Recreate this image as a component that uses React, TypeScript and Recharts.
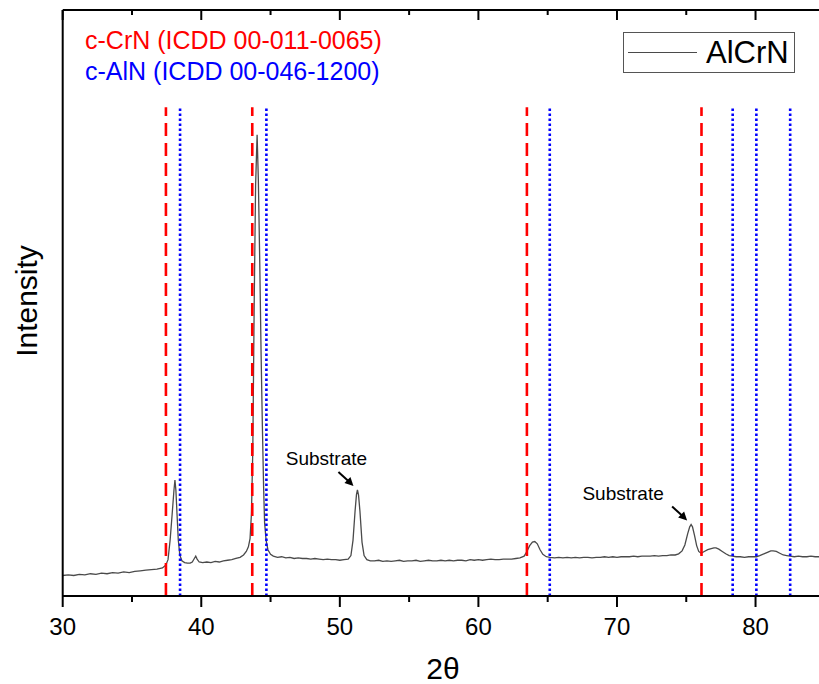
import { Legend, Line, LineChart, ReferenceDot, ReferenceLine, XAxis, YAxis } from "recharts";

const twoTheta = [
  30.0, 30.4, 30.8, 31.2, 31.6, 32.0, 32.4, 32.8, 33.2, 33.6, 34.0, 34.4, 34.8, 35.2, 35.6, 36.0, 36.4, 36.8, 37.2, 37.45,
  37.6, 37.75, 37.9, 38.03, 38.1, 38.17, 38.25, 38.34, 38.45, 38.6, 38.8, 39.0, 39.2, 39.35, 39.5, 39.6, 39.7, 39.85,
  40.1, 40.4, 40.7, 41.0, 41.3, 41.6, 41.9, 42.2, 42.5, 42.8, 43.05, 43.25, 43.4, 43.52, 43.62, 43.72, 43.82, 43.92,
  44.03, 44.12, 44.22, 44.32, 44.41, 44.5, 44.57, 44.68, 44.81, 45.0, 45.2, 45.5, 45.8, 46.1, 46.4, 46.7, 47.0, 47.3,
  47.6, 47.9, 48.2, 48.5, 48.8, 49.1, 49.4, 49.7, 50.0, 50.3, 50.6, 50.8, 50.95, 51.1, 51.2, 51.27, 51.35, 51.45, 51.6,
  51.75, 51.95, 52.2, 52.5, 52.8, 53.1, 53.4, 53.7, 54.0, 54.3, 54.6, 54.9, 55.2, 55.5, 55.8, 56.1, 56.4, 56.7, 57.0,
  57.3, 57.6, 57.9, 58.2, 58.5, 58.8, 59.1, 59.4, 59.7, 60.0, 60.3, 60.6, 60.9, 61.2, 61.5, 61.8, 62.1, 62.4, 62.7,
  63.0, 63.3, 63.5, 63.7, 63.9, 64.07, 64.25, 64.45, 64.65, 64.9, 65.15, 65.5, 65.8, 66.1, 66.4, 66.7, 67.0, 67.3,
  67.6, 67.9, 68.2, 68.5, 68.8, 69.1, 69.4, 69.7, 70.0, 70.3, 70.6, 70.9, 71.2, 71.5, 71.8, 72.1, 72.4, 72.7, 73.0,
  73.3, 73.6, 73.9, 74.2, 74.45, 74.7, 74.9, 75.1, 75.25, 75.35, 75.45, 75.6, 75.75, 75.9, 76.07, 76.3, 76.55, 76.8,
  77.0, 77.15, 77.35, 77.6, 77.85, 78.1, 78.35, 78.6, 78.9, 79.2, 79.5, 79.8, 80.06, 80.3, 80.6, 80.9, 81.1, 81.27,
  81.5, 81.75, 82.0, 82.25, 82.5, 82.8, 83.1, 83.4, 83.7, 84.0, 84.3, 84.58,
];

const intensity = [
  3.5, 3.6, 3.5, 3.7, 3.6, 3.8, 3.7, 3.9, 3.8, 4.0, 3.9, 4.1, 4.0, 4.2, 4.3, 4.4, 4.5, 4.6, 4.8, 5.3,
  6.2, 9.5, 14.0, 18.1, 19.8, 18.0, 14.0, 9.6, 7.0, 6.0, 5.7, 5.6, 5.6, 5.8, 6.4, 6.8, 6.3, 5.8,
  5.7, 5.8, 5.7, 5.9, 5.8, 6.0, 6.1, 6.2, 6.4, 6.6, 7.0, 7.6, 8.4, 9.8, 14.0, 25.0, 50.0, 70.0,
  78.7, 71.0, 57.0, 41.0, 29.0, 18.5, 12.5, 9.5, 7.9, 7.1, 6.8, 6.6, 6.7, 6.5, 6.6, 6.4, 6.5, 6.4,
  6.4, 6.3, 6.4, 6.3, 6.2, 6.3, 6.2, 6.2, 6.1, 6.2, 6.3, 6.9, 9.5, 14.5, 17.3, 18.1, 17.2, 14.5, 9.2,
  6.9, 6.2, 6.0, 6.0, 6.1, 5.9, 6.0, 5.9, 6.0, 6.1, 5.9, 6.0, 6.0, 6.1, 5.9, 6.0, 6.1, 6.0, 6.0,
  6.1, 6.0, 6.1, 6.0, 6.1, 6.1, 6.0, 6.2, 6.1, 6.2, 6.1, 6.2, 6.3, 6.2, 6.2, 6.3, 6.3, 6.3, 6.4,
  6.5, 6.8, 7.6, 8.6, 9.2, 9.3, 8.9, 7.9, 7.1, 6.7, 6.6, 6.5, 6.6, 6.5, 6.6, 6.5, 6.6, 6.5,
  6.6, 6.6, 6.5, 6.6, 6.6, 6.7, 6.6, 6.7, 6.6, 6.7, 6.7, 6.7, 6.8, 6.7, 6.8, 6.8, 6.8, 6.9, 6.8,
  6.9, 6.9, 7.0, 7.0, 7.2, 7.7, 8.7, 10.6, 11.8, 12.2, 11.8, 10.3, 8.6, 7.6, 7.3, 7.6, 7.9, 8.1,
  8.2, 8.2, 8.0, 7.6, 7.2, 6.9, 6.8, 6.7, 6.7, 6.6, 6.7, 6.7, 6.7, 6.9, 7.2, 7.5, 7.7, 7.7,
  7.6, 7.3, 7.0, 6.9, 6.8, 6.7, 6.8, 6.7, 6.7, 6.8, 6.7, 6.7,
];

const crnLines = [37.45, 43.68, 63.5, 76.1];
const alnLines = [38.47, 44.7, 65.15, 78.35, 80.06, 82.5];
const majorTicks = [30, 40, 50, 60, 70, 80];
const allTicks = [30, 35, 40, 45, 50, 55, 60, 65, 70, 75, 80];
const substratePeaks = [
  { x: 51.27, y: 18.1 },
  { x: 75.35, y: 12.2 },
];

const data = twoTheta.map((t, i) => ({ t, v: intensity[i] }));

const FONT = "'Liberation Sans', Arial, sans-serif";

function BottomTick({ x, y, payload }: any) {
  const major = majorTicks.includes(payload.value);
  return (
    <g>
      <line x1={x} y1={y} x2={x} y2={y + (major ? 11 : 6)} stroke="#000" strokeWidth={2} />
      {major && (
        <text x={x} y={y + 39} textAnchor="middle" fontSize={24} fill="#000" fontFamily={FONT}>
          {payload.value}
        </text>
      )}
    </g>
  );
}

function TopTick({ x, y, payload }: any) {
  const major = majorTicks.includes(payload.value);
  return <line x1={x} y1={y} x2={x} y2={y + (major ? 10 : 5)} stroke="#000" strokeWidth={2} />;
}

function SubstrateMark({ cx, cy, textDx }: any) {
  return (
    <g>
      <text x={cx + textDx} y={cy - 25} textAnchor="middle" fontSize={19} fill="#000" fontFamily={FONT}>
        Substrate
      </text>
      <line x1={cx - 19} y1={cy - 18} x2={cx - 8} y2={cy - 8} stroke="#000" strokeWidth={2} />
      <polygon points={`${cx - 4},${cy - 4} ${cx - 13},${cy - 7} ${cx - 7},${cy - 13}`} fill="#000" />
    </g>
  );
}

function LegendBox() {
  return (
    <div
      style={{
        boxSizing: "border-box",
        width: 172,
        height: 41,
        border: "1px solid #555",
        background: "#fff",
        display: "flex",
        alignItems: "center",
        fontFamily: FONT,
      }}
    >
      <span style={{ display: "inline-block", width: 69, borderTop: "1.3px solid #4a4a4a", marginLeft: 4 }} />
      <span style={{ fontSize: 31, marginLeft: 9, color: "#000", lineHeight: 1 }}>AlCrN</span>
    </div>
  );
}

export default function App() {
  return (
    <div style={{ position: "absolute", left: 0, top: 0, width: 819, height: 684, background: "#fff" }}>
      <LineChart width={819} height={684} data={data} margin={{ top: 9, right: 0, bottom: 28, left: 61.7 }}>
        <XAxis
          dataKey="t"
          type="number"
          domain={[30, 84.58]}
          allowDataOverflow
          ticks={allTicks}
          interval={0}
          height={60}
          tickSize={0}
          tickMargin={0}
          tickLine={false}
          axisLine={{ stroke: "#000", strokeWidth: 2 }}
          tick={<BottomTick />}
        />
        <XAxis
          xAxisId="top"
          orientation="top"
          dataKey="t"
          type="number"
          domain={[30, 84.58]}
          allowDataOverflow
          ticks={allTicks}
          interval={0}
          height={1}
          tickSize={0}
          tickMargin={0}
          tickLine={false}
          axisLine={{ stroke: "#000", strokeWidth: 2 }}
          tick={<TopTick />}
        />
        <YAxis
          type="number"
          domain={[0, 100]}
          width={1}
          tick={false}
          tickLine={false}
          axisLine={{ stroke: "#000", strokeWidth: 2 }}
        />
        <Line
          type="linear"
          dataKey="v"
          stroke="#4a4a4a"
          strokeWidth={1.3}
          dot={false}
          isAnimationActive={false}
        />
        {crnLines.map((x) => (
          <ReferenceLine
            key={`c${x}`}
            segment={[{ x, y: 0 }, { x, y: 83.4 }]}
            stroke="#ff0000"
            strokeWidth={2.6}
            strokeDasharray="13 7"
          />
        ))}
        {alnLines.map((x) => (
          <ReferenceLine
            key={`a${x}`}
            segment={[{ x, y: 0 }, { x, y: 83.4 }]}
            stroke="#0000ff"
            strokeWidth={2.6}
            strokeDasharray="2.6 2.4"
          />
        ))}
        {substratePeaks.map((p, i) => (
          <ReferenceDot
            key={`s${i}`}
            x={p.x}
            y={p.y}
            shape={(props: any) => <SubstrateMark {...props} textDx={i === 0 ? -31 : -68} />}
          />
        ))}
        <Legend
          layout="vertical"
          align="center"
          verticalAlign="middle"
          wrapperStyle={{ left: 623, top: 32, width: 172, height: 41 }}
          content={() => <LegendBox />}
        />
        <text x={85} y={49} fontSize={25} fill="#ff0000" fontFamily={FONT}>
          c-CrN (ICDD 00-011-0065)
        </text>
        <text x={85} y={80} fontSize={25} fill="#0000ff" fontFamily={FONT}>
          c-AlN (ICDD 00-046-1200)
        </text>
        <text
          x={37}
          y={301}
          transform="rotate(-90 37 301)"
          textAnchor="middle"
          fontSize={30}
          fill="#000"
          fontFamily={FONT}
        >
          Intensity
        </text>
        <text x={443} y={679} textAnchor="middle" fontSize={30} fill="#000" fontFamily={FONT}>
          2θ
        </text>
      </LineChart>
    </div>
  );
}
